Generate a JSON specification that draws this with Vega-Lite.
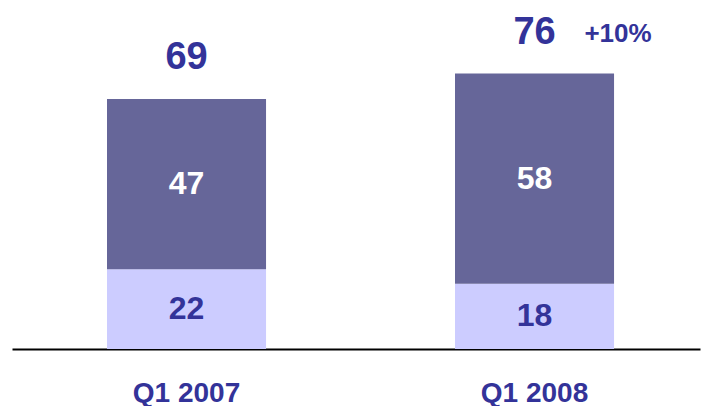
{
  "$schema": "https://vega.github.io/schema/vega-lite/v6.json",
  "autosize": {"type": "none"},
  "padding": {"left": 12, "right": 2, "top": 0, "bottom": 57},
  "width": 688,
  "height": 349,
  "background": "white",
  "config": {
    "font": "Liberation Sans",
    "view": {"stroke": null}
  },
  "datasets": {
    "segments": [
      {"quarter": "Q1 2007", "segment": "bottom", "value": 22, "order": 1},
      {"quarter": "Q1 2007", "segment": "top", "value": 47, "order": 2},
      {"quarter": "Q1 2008", "segment": "bottom", "value": 18, "order": 1},
      {"quarter": "Q1 2008", "segment": "top", "value": 58, "order": 2}
    ],
    "totals": [
      {"quarter": "Q1 2007", "total": 69, "change": ""},
      {"quarter": "Q1 2008", "total": 76, "change": "+10%"}
    ]
  },
  "layer": [
    {
      "data": {"name": "segments"},
      "transform": [
        {"stack": "value", "groupby": ["quarter"], "sort": [{"field": "order"}], "as": ["v0", "v1"]}
      ],
      "mark": {"type": "bar"},
      "encoding": {
        "x": {
          "field": "quarter", "type": "nominal", "sort": ["Q1 2007", "Q1 2008"],
          "scale": {"paddingInner": 0.543, "paddingOuter": 0.26, "align": 0.525},
          "axis": {
            "title": null, "labelAngle": 0, "ticks": false, "domainColor": "black", "domainWidth": 2,
            "labelFont": "Liberation Sans", "labelFontWeight": "bold", "labelFontSize": 28,
            "labelColor": "#333399", "labelBaseline": "middle", "labelPadding": 44, "grid": false
          }
        },
        "y": {"field": "v0", "type": "quantitative", "scale": {"domain": [0, 96.3], "nice": false, "zero": true}, "axis": null},
        "y2": {"field": "v1"},
        "color": {"field": "segment", "type": "nominal", "scale": {"domain": ["bottom", "top"], "range": ["#CCCCFF", "#666699"]}, "legend": null}
      }
    },
    {
      "data": {"name": "segments"},
      "transform": [
        {"stack": "value", "groupby": ["quarter"], "sort": [{"field": "order"}], "as": ["v0", "v1"]},
        {"calculate": "(datum.v0 + datum.v1) / 2", "as": "mid"}
      ],
      "mark": {"type": "text", "font": "Liberation Sans", "fontWeight": "bold", "fontSize": 32, "baseline": "middle", "align": "center"},
      "encoding": {
        "x": {"field": "quarter", "type": "nominal", "sort": ["Q1 2007", "Q1 2008"]},
        "y": {"field": "mid", "type": "quantitative"},
        "text": {"field": "value", "type": "quantitative"},
        "color": {"condition": {"test": "datum.segment === 'top'", "value": "white"}, "value": "#333399"}
      }
    },
    {
      "data": {"name": "totals"},
      "mark": {"type": "text", "font": "Liberation Sans", "fontWeight": "bold", "fontSize": 38, "baseline": "alphabetic", "align": "center", "dy": -29.5, "color": "#333399"},
      "encoding": {
        "x": {"field": "quarter", "type": "nominal", "sort": ["Q1 2007", "Q1 2008"]},
        "y": {"field": "total", "type": "quantitative"},
        "text": {"field": "total", "type": "quantitative"}
      }
    },
    {
      "data": {"name": "totals"},
      "mark": {"type": "text", "font": "Liberation Sans", "fontWeight": "bold", "fontSize": 26, "baseline": "alphabetic", "align": "center", "dx": 83.5, "dy": -31.5, "color": "#333399"},
      "encoding": {
        "x": {"field": "quarter", "type": "nominal", "sort": ["Q1 2007", "Q1 2008"]},
        "y": {"field": "total", "type": "quantitative"},
        "text": {"field": "change", "type": "nominal"}
      }
    }
  ]
}
